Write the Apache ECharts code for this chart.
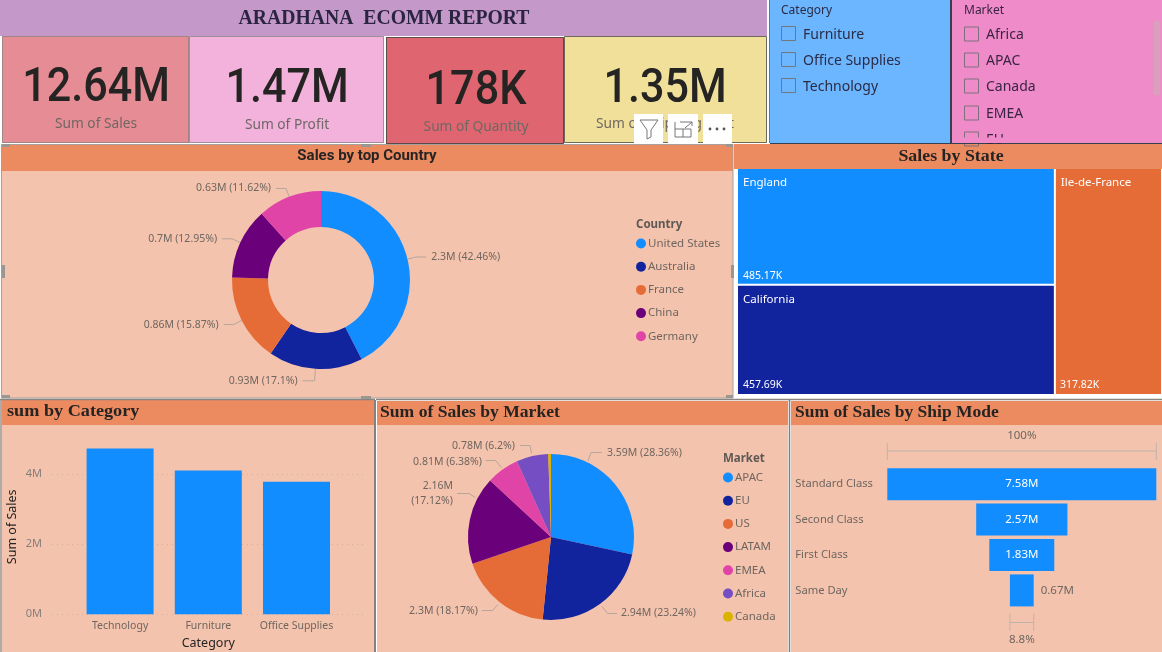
<!DOCTYPE html>
<html><head><meta charset="utf-8">
<style>html,body{margin:0;padding:0;background:#fff}#c{width:1162px;height:652px}</style>
<script src="https://cdn.jsdelivr.net/npm/echarts@6/dist/echarts.min.js"></script>
</head><body><div id="c"></div>
<script>
const palette = ['#118DFF','#12239E','#E66C37','#6B007B','#E044A7','#744EC2','#D9B300'];
const kpiValues = ['12.64M','1.47M','178K','1.35M'];
const kpiLabels = ['Sum of Sales','Sum of Profit','Sum of Quantity','Sum of Shipping Cost'];
const sliceCategory = ['Furniture','Office Supplies','Technology'];
const sliceMarket = ['Africa','APAC','Canada','EMEA','EU'];
const countryNames = ['United States','Australia','France','China','Germany'];
const countrySales = [2.3,0.93,0.86,0.7,0.63];
const countryShare = [42.46,17.1,15.87,12.95,11.62];
const stateNames = ['England','California','Ile-de-France'];
const stateSales = [485.17,457.69,317.82];
const categoryNames = ['Technology','Furniture','Office Supplies'];
const categorySales = [4.74,4.11,3.79];
const marketNames = ['APAC','EU','US','LATAM','EMEA','Africa','Canada'];
const marketSales = [3.59,2.94,2.3,2.16,0.81,0.78,0.07];
const marketShare = [28.36,23.24,18.17,17.12,6.38,6.2,0.53];
const shipNames = ['Standard Class','Second Class','First Class','Same Day'];
const shipSales = [7.58,2.57,1.83,0.67];

const UI = '"Noto Sans", sans-serif';
const DIN = 'Roboto, sans-serif';
const SERIF = '"Liberation Serif", serif';
const BODY = '#F4C3AD', HEAD = '#EC8A60', GREY = '#6E6660', DARK = '#252423', LEADER = '#B5A69C';

const chart = echarts.init(document.getElementById('c'), null, {renderer:'canvas'});

const pieLabel = (sales, share, i) => sales[i] + 'M (' + share[i] + '%)';
const pieCommon = {
  type:'pie', clockwise:true, startAngle:90, avoidLabelOverlap:false, animation:false,
  silent:true,
  label:{fontFamily:UI,fontSize:10.5,color:GREY,lineHeight:15},
  labelLine:{lineStyle:{color:LEADER,width:1},length:9,length2:10},
};
const marketLabelSpots = [
  {x:607,y:453,align:'left'},{x:621,y:613,align:'left'},{x:478,y:611,align:'right'},
  {x:453,y:494,align:'right'},{x:482,y:462,align:'right'},{x:515,y:446,align:'right'},{}
];
chart.setOption({
  animation:false,
  color:palette,
  legend:[
    {orient:'vertical',left:636,top:237.5,padding:0,itemWidth:10,itemHeight:10,itemGap:11.2,icon:'circle',
     data:countryNames,selectedMode:false,textStyle:{fontFamily:UI,fontSize:11.5,color:GREY,padding:[0,0,0,-3]}},
    {orient:'vertical',left:723,top:471.5,padding:0,itemWidth:10,itemHeight:10,itemGap:11.2,icon:'circle',
     data:marketNames,selectedMode:false,textStyle:{fontFamily:UI,fontSize:11.5,color:GREY,padding:[0,0,0,-3]}}
  ],
  grid:[
    {left:52,right:795,top:474.3,height:140},
    {left:76,width:264.6,top:439.3,height:175},
    {left:887.3,width:269,top:466.5,height:141.6}
  ],
  xAxis:[
    {gridIndex:0,type:'value',show:false,min:0,max:1},
    {gridIndex:1,type:'category',data:categoryNames,axisLine:{show:false},axisTick:{show:false},
     axisLabel:{fontFamily:UI,fontSize:10.5,color:GREY,margin:6,interval:0},
     name:'Category',nameLocation:'middle',nameGap:23,nameTextStyle:{fontFamily:UI,fontSize:12.5,color:DARK}},
    {gridIndex:2,type:'value',show:false,min:0,max:shipSales[0]}
  ],
  yAxis:[
    {gridIndex:0,type:'value',min:0,max:4,interval:2,axisLine:{show:false},axisTick:{show:false},
     axisLabel:{fontFamily:UI,fontSize:11,color:'#857E79',margin:10,formatter:v=>v+'M'},
     splitLine:{show:true,lineStyle:{type:[1,4],color:'#D2AE9C',width:1}}},
    {gridIndex:1,type:'value',min:0,max:5,axisLine:{show:false},axisTick:{show:false},axisLabel:{show:false},splitLine:{show:false},
     name:'Sum of Sales',nameLocation:'middle',nameGap:57,nameTextStyle:{fontFamily:UI,fontSize:12.5,color:DARK}},
    {gridIndex:2,type:'category',inverse:true,data:shipNames,axisLine:{show:false},axisTick:{show:false},
     axisLabel:{fontFamily:UI,fontSize:11.2,color:GREY,align:'left',margin:92}}
  ],
  series:[
    Object.assign({},pieCommon,{
      name:'country',center:[321,280],radius:[53,89],
      data:countryNames.map((n,i)=>({name:n,value:countryShare[i],itemStyle:{color:palette[i]},
        labelLine:i===1?{length:12,length2:12}:undefined,
        label:{formatter:pieLabel(countrySales,countryShare,i)}}))
    }),
    Object.assign({},pieCommon,{
      name:'market',center:[551,537],radius:[0,83],
      labelLine:{show:false},
      labelLayout:p=>{const s=marketLabelSpots[p.dataIndex];return {x:s.x,y:s.y,align:s.align,verticalAlign:'middle'};},
      data:marketNames.map((n,i)=>({name:n,value:marketShare[i],itemStyle:{color:palette[i]},
        label:n==='Canada'?{show:false}:{formatter:n==='LATAM'?marketSales[i]+'M\n('+marketShare[i]+'%)':pieLabel(marketSales,marketShare,i)}}))
    }),
    {type:'treemap',left:738,top:169,width:423,height:225,roam:false,nodeClick:false,silent:true,
     breadcrumb:{show:false},sort:'desc',squareRatio:1.618,animation:false,
     itemStyle:{gapWidth:2,borderWidth:0},
     levels:[{itemStyle:{gapWidth:2,borderWidth:0,borderColor:'#fff'}}],
     label:{show:true,position:'insideTopLeft',fontFamily:UI,fontSize:11.5,color:'#fff',distance:0,padding:[8,5,5,5],formatter:'{b}'},
     data:stateNames.map((n,i)=>({name:n,value:stateSales[i],itemStyle:{color:palette[i]}}))},
    {type:'bar',xAxisIndex:1,yAxisIndex:1,data:categorySales,barWidth:67,itemStyle:{color:palette[0]},silent:true},
    {type:'bar',xAxisIndex:2,yAxisIndex:2,stack:'f',barWidth:32,silent:true,itemStyle:{color:'transparent'},
     data:shipSales.map(v=>(shipSales[0]-v)/2)},
    {type:'bar',xAxisIndex:2,yAxisIndex:2,stack:'f',barWidth:32,silent:true,itemStyle:{color:palette[0]},
     data:shipSales.map((v,i)=>({value:v,label:i===3?{show:true,position:'right',color:GREY,distance:7,formatter:v+'M'}:{show:true,position:'inside',color:'#fff',formatter:v+'M'}})),
     label:{fontFamily:UI,fontSize:11.5}}
  ]
});

// Page furniture
const g = [];
const rect=(x,y,w,h,fill)=>g.push({type:'rect',shape:{x,y,width:w,height:h},style:{fill},silent:true,z:-5});
const box=(x,y,w,h,stroke,lw)=>g.push({type:'rect',shape:{x:x,y:y,width:w,height:h},style:{fill:null,stroke,lineWidth:lw||1},silent:true,z:5});
const text=(t,x,y,font,fill,align,sx,z)=>g.push({type:'text',x,y,scaleX:sx||1,silent:true,z:z||10,style:{text:t,x:0,y:0,font,fill,align:align||'left',verticalAlign:'middle'}});
const line=(x1,y1,x2,y2,stroke,lw)=>g.push({type:'line',shape:{x1,y1,x2,y2},style:{stroke,lineWidth:lw||1},silent:true,z:6});

// header band and KPI cards
rect(0,0,767,36,'#C498C8');
const cards=[[2,187,'#E68C94','#a08585'],[189,195,'#F2B2DC','#a08f9a'],[386,178,'#DF6670','#5a4a4a'],[564,203,'#F0E09A','#6d6a5a']];
const kpiX=[96,287,476,665], kpiY=[89,90,92,90], kpiL=[124,125,127,124];
cards.forEach((c,i)=>{
  rect(c[0],36+(i==2?1:0),c[1],107,c[2]);
  box(c[0]+.5,36.5+(i==2?1:0),c[1]-1,106,c[3],1);
  text(kpiValues[i],kpiX[i],kpiY[i],'500 49px '+DIN,DARK,'center',0.88);
  text(kpiLabels[i],kpiX[i],kpiL[i],'14px '+UI,'#6f6764','center',0.98);
});
text('ARADHANA  ECOMM REPORT',384,18,'bold 22px '+SERIF,'#2a2440','center',0.895);

// slicers
rect(770,0,180,143,'#6CB5FF');
rect(952,0,210,143,'#EE8BC8');
line(769.5,0,769.5,143,'#4a7fb5',1);
line(951,0,951,143,'#33404f',2);
line(770,143.5,1162,143.5,'#33404f',1);
text('Category',781,11,'12px '+UI,'#2b2b44');
sliceCategory.forEach((s,i)=>{
  box(781.5,26.5+26*i,14,14,'#75757a',1);
  text(s,803,35+26*i,'14px '+UI,'#2b2b44');
});
text('Market',964,11,'12px '+UI,'#3a2444');
const mY=[34,60,86,113,139];
sliceMarket.forEach((s,i)=>{
  box(964.5,mY[i]-7,14,14,'#80707f',1);
  text(s,986,mY[i]+1,'14px '+UI,'#3a2444');
});
g.push({type:'rect',shape:{x:953,y:137.5,width:209,height:5.5},style:{fill:'#EE8BC8'},silent:true,z:20});
rect(1154,21,6,74,'#D9A0BC');

// visual panels
rect(2,145,731,26,HEAD); rect(2,171,731,227,BODY);
rect(734,144,428,25,HEAD);
rect(2,400,372,25,HEAD); rect(2,425,372,227,BODY);
rect(377,401,411,24,HEAD); rect(377,425,411,227,BODY);
rect(791,401,371,24,HEAD); rect(791,425,371,227,BODY);
line(1,400,1,652,'#5e5653',1); line(375,400,375,652,'#5e5653',1.5);
line(0,399.5,375,399.5,'#8b8480',1.5); line(376,399.5,1162,399.5,'#8b8480',1.5);
line(789.5,400,789.5,652,'#8d7a70',1.5);
box(1.5,144.5,731.5,253.5,'#A5A09C',1);
const H='#9a9692';
[[2,144,8,3],[361,144,10,3],[726,144,7,3],[2,395,8,3],[361,396,10,3],[726,395,7,3],[2,265,3,13],[731,265,3,13]].forEach(h=>g.push({type:'rect',shape:{x:h[0],y:h[1],width:h[2],height:h[3]},style:{fill:H},silent:true,z:7}));

text('Sales by top Country',367,156,'bold 15px '+DIN,DARK,'center');
text('Sales by State',951,157,'bold 17px '+SERIF,DARK,'center',1.05);
text('sum by Category',7,412,'bold 17px '+SERIF,DARK,'left',1.07);
text('Sum of Sales by Market',380,412.5,'bold 17px '+SERIF,DARK,'left',1.035);
text('Sum of Sales by Ship Mode',795,412.5,'bold 17px '+SERIF,DARK,'left',1.03);

// legend titles
text('Country',636,225,'bold 11.5px '+UI,'#5f5955');
text('Market',723,459,'bold 11.5px '+UI,'#5f5955');

// market pie leader lines
[[[588,461],[591,452.5],[602,452.5]],[[602,606.5],[607.5,613.5],[617,613.5]],[[498,604.5],[492.5,610.5],[482,610.5]],
 [[475.5,497.5],[469,493.5],[457,493.5]],[[501.5,467.5],[495.5,460.5],[485.5,460.5]],[[531.5,453.5],[530,445.5],[520,445.5]]]
 .forEach(p=>g.push({type:'polyline',shape:{points:p},style:{fill:null,stroke:LEADER,lineWidth:1},silent:true,z:6}));

// treemap values, read from the state data
const tx=[743,743,1060];
[276,385,385].forEach((y,i)=>{ text(stateSales[i]+'K',tx[i],y,'10.5px '+UI,'#fff','left',1,30); });

// funnel brackets drawn from the axis scale
const px=v=>chart.convertToPixel({gridIndex:2},[v,0])[0];
const B='#BDB3AC';
const x0=px(0),x1=px(shipSales[0]),x2=px((shipSales[0]-shipSales[3])/2),x3=px((shipSales[0]+shipSales[3])/2);
line(x0,451,x1,451,B); line(x0,443,x0,460,B); line(x1,443,x1,460,B);
line(x2,622.5,x3,622.5,B); line(x2,614,x2,631,B); line(x3,614,x3,631,B);
text('100%',(x0+x1)/2,436,'11.5px '+UI,GREY,'center');
text((shipSales[3]/shipSales[0]*100).toFixed(1)+'%',(x0+x1)/2,640,'11.5px '+UI,GREY,'center');

// visual header icons
[[634,29],[668,30],[703,29]].forEach(b=>g.push({type:'rect',shape:{x:b[0],y:114,width:b[1],height:29},style:{fill:'#fff'},silent:true,z:40}));
const ICON='#77757a';
g.push({type:'polygon',shape:{points:[[640,120],[658,120],[651,130],[651,137],[647,139],[647,130]]},style:{fill:'#fff',stroke:ICON,lineWidth:1},silent:true,z:41});
g.push({type:'polyline',shape:{points:[[675,122],[675,137],[691,137],[691,129],[683,129],[683,137]]},style:{fill:null,stroke:ICON,lineWidth:1},silent:true,z:41});
g.push({type:'polyline',shape:{points:[[675,129],[683,129]]},style:{fill:null,stroke:ICON,lineWidth:1},silent:true,z:41});
g.push({type:'polyline',shape:{points:[[680,122],[692,122],[692,126]]},style:{fill:null,stroke:ICON,lineWidth:1},silent:true,z:41});
g.push({type:'line',shape:{x1:692,y1:122,x2:685,y2:128},style:{stroke:ICON,lineWidth:1},silent:true,z:41});
[710,717,724].forEach(x=>g.push({type:'circle',shape:{cx:x,cy:129,r:1.4},style:{fill:'#55535a'},silent:true,z:41}));

chart.setOption({graphic:{elements:g}});
</script></body></html>
